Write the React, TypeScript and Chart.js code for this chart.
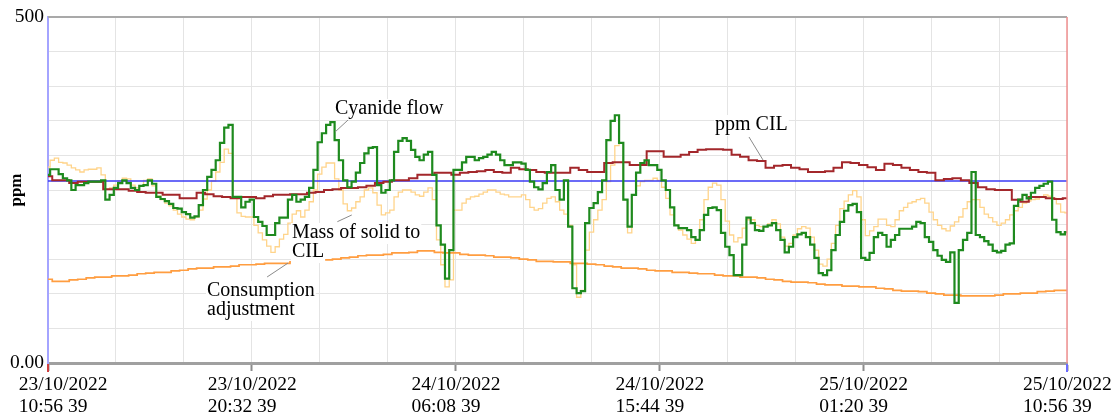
import React, { useEffect, useRef } from "react";
import { Chart, registerables } from "chart.js";

Chart.register(...registerables);

// time axis: hours after 23/10/2022 10:56:39
const FINE_STEP_H = 0.2; // sampling of the fast process signals
const COARSE_STEP_H = 0.4; // sampling of the slow signals
const GRID_STEP_H = 3.2; // vertical grid spacing (labels on every third line)
const SPAN_H = 48;

const cyanideFlow = [
  272, 280, 280, 273, 267, 264, 250, 257, 257, 260, 262, 262, 262, 264, 236, 243, 253, 260, 264, 260,
  253, 250, 256, 257, 264, 259, 240, 237, 234, 230, 224, 223, 218, 215, 210, 212, 228, 250, 269, 279,
  293, 318, 340, 344, 240, 240, 225, 233, 236, 211, 204, 198, 185, 185, 202, 210, 210, 236, 243, 233,
  236, 240, 253, 279, 319, 332, 344, 348, 322, 293, 264, 254, 262, 275, 289, 303, 311, 312, 257, 246,
  250, 264, 305, 321, 325, 321, 308, 298, 293, 301, 305, 272, 199, 171, 122, 163, 279, 279, 290, 298,
  298, 293, 296, 298, 301, 305, 301, 293, 286, 286, 290, 290, 288, 279, 262, 254, 251, 260, 276, 286,
  250, 236, 264, 197, 108, 101, 104, 202, 224, 231, 247, 264, 322, 350, 358, 318, 236, 197, 243, 275,
  289, 293, 286, 286, 279, 264, 250, 225, 199, 195, 195, 192, 182, 178, 192, 214, 224, 225, 221, 188,
  168, 156, 127, 127, 171, 210, 202, 192, 191, 197, 199, 202, 192, 178, 160, 168, 182, 186, 188, 182,
  171, 152, 130, 127, 134, 163, 185, 204, 220, 228, 230, 218, 152, 149, 159, 182, 188, 185, 168, 178,
  185, 194, 194, 194, 197, 204, 202, 182, 175, 163, 155, 149, 146, 160, 87, 163, 178, 188, 276, 185,
  182, 176, 171, 162, 160, 162, 171, 173, 227, 236, 243, 238, 246, 253, 256, 259, 262, 207, 189, 186,
  189,
];

const massOfSolid = [
  283, 293, 296, 290, 289, 286, 282, 279, 276, 279, 280, 280, 282, 272, 251, 253, 257, 263, 267, 266,
  257, 253, 256, 264, 266, 256, 241, 236, 231, 227, 221, 215, 211, 208, 207, 211, 221, 237, 250, 263,
  276, 290, 309, 303, 238, 217, 212, 211, 211, 199, 188, 178, 169, 160, 168, 179, 186, 202, 215, 220,
  211, 221, 233, 250, 273, 283, 289, 289, 266, 250, 230, 220, 224, 233, 240, 250, 253, 246, 228, 214,
  217, 221, 240, 247, 250, 250, 247, 243, 241, 247, 253, 236, 178, 142, 110, 120, 221, 221, 231, 237,
  240, 241, 244, 247, 250, 250, 247, 244, 243, 240, 240, 240, 243, 236, 225, 221, 223, 231, 238, 240,
  233, 221, 215, 199, 142, 95, 105, 163, 189, 207, 221, 236, 262, 286, 314, 318, 236, 188, 243, 256,
  262, 264, 264, 267, 264, 254, 238, 214, 199, 192, 185, 179, 173, 178, 207, 236, 254, 260, 257, 236,
  205, 185, 175, 181, 195, 207, 207, 199, 197, 197, 201, 207, 201, 182, 169, 173, 185, 194, 197, 195,
  182, 163, 143, 140, 150, 173, 199, 223, 234, 243, 249, 240, 207, 184, 191, 197, 208, 208, 199, 197,
  207, 220, 225, 231, 233, 236, 238, 231, 218, 207, 199, 194, 191, 198, 204, 211, 223, 233, 236, 236,
  225, 215, 210, 204, 199, 202, 207, 214, 220, 225, 231, 234, 236, 237, 240, 243, 241, 238, 230, 218,
  217,
];

const consumptionAdj = [
  121, 118, 118, 120, 121, 123, 124, 124, 126, 126,
  127, 129, 130, 131, 131, 133, 134, 136, 137, 137,
  139, 139, 140, 142, 142, 143, 144, 144, 144, 146,
  146, 147, 147, 149, 150, 152, 153, 155, 156, 156,
  157, 159, 159, 160, 162, 162, 160, 159, 159, 157,
  156, 156, 155, 153, 153, 152, 150, 149, 147, 147,
  146, 146, 144, 144, 143, 142, 140, 139, 137, 137,
  136, 134, 133, 133, 131, 131, 130, 129, 129, 127,
  126, 126, 124, 124, 123, 121, 120, 118, 117, 117,
  116, 114, 113, 113, 111, 111, 110, 110, 108, 107,
  105, 104, 104, 103, 101, 100, 98, 98, 97, 97,
  97, 97, 98, 100, 100, 101, 101, 103, 104, 105, 105,
];

const ppmCIL = [
  270, 264, 264, 260, 262, 262, 262, 251, 251, 251,
  249, 247, 246, 246, 243, 243, 238, 238, 246, 244,
  241, 240, 238, 240, 240, 238, 241, 243, 243, 244,
  244, 246, 247, 250, 251, 253, 253, 254, 256, 260,
  262, 264, 264, 267, 272, 272, 275, 275, 272, 275,
  276, 277, 279, 276, 275, 282, 280, 279, 276, 275,
  275, 275, 282, 279, 276, 276, 289, 290, 290, 286,
  286, 306, 306, 298, 298, 301, 305, 308, 309, 309,
  308, 301, 298, 293, 292, 282, 285, 286, 282, 280,
  276, 276, 277, 282, 290, 289, 286, 283, 279, 288,
  286, 282, 279, 276, 275, 264, 266, 267, 264, 260,
  254, 251, 250, 250, 236, 233, 240, 240, 238, 237, 238,
];

const setpointPpm = 263;

const tickDates = ["23/10/2022", "23/10/2022", "24/10/2022", "24/10/2022", "25/10/2022", "25/10/2022"];
const tickTimes = ["10:56 39", "20:32 39", "06:08 39", "15:44 39", "01:20 39", "10:56 39"];

// annotation labels: text lines, text anchor (hours, ppm of first baseline), leader line ends
const notes = [
  { lines: ["Cyanide flow"], at: [13.52, 359.8], leader: [[14.23, 353.9], [13.52, 333.8]] },
  { lines: ["ppm CIL"], at: [31.42, 336.7], leader: [[33.02, 326.6], [33.68, 293.4]] },
  { lines: ["Mass of solid to", "CIL"], at: [11.49, 180.6], leader: [[13.63, 204.2], [14.31, 213.9]] },
  { lines: ["Consumption", "adjustment"], at: [7.49, 96.8], leader: [[10.32, 124.3], [11.31, 144.5]] },
];

const SERIF = '"Liberation Serif", "Times New Roman", serif';

function isLabelTick(v: number) {
  return Math.round(v / GRID_STEP_H) % 3 === 0;
}

function zeroPadding(s: any) {
  s.paddingLeft = 0;
  s.paddingRight = 0;
  s.paddingTop = 0;
  s.paddingBottom = 0;
}

export default function App() {
  const ref = useRef<HTMLCanvasElement>(null);

  useEffect(() => {
    const canvas = ref.current;
    if (!canvas) return;
    const pts = (arr: number[], step: number) =>
      arr.map((v, i) => ({ x: Math.round(i * step * 100) / 100, y: v }));

    const framePlugin = {
      id: "frameAndNotes",
      afterDraw(chart: any) {
        const { ctx, chartArea: ca, scales } = chart;
        const xs = scales.x;
        const ys = scales.y;
        ctx.save();
        // top frame
        ctx.strokeStyle = "#a9a9a9";
        ctx.lineWidth = 2;
        ctx.beginPath();
        ctx.moveTo(ca.left, ca.top);
        ctx.lineTo(ca.right, ca.top);
        ctx.stroke();
        // right frame (cursor)
        ctx.strokeStyle = "#f09090";
        ctx.lineWidth = 1.5;
        ctx.beginPath();
        ctx.moveTo(ca.right, ca.top);
        ctx.lineTo(ca.right, ca.bottom);
        ctx.stroke();
        // cursor markers below axis
        ctx.lineWidth = 2;
        ctx.strokeStyle = "#d04040";
        ctx.beginPath();
        ctx.moveTo(ca.left, ca.bottom + 1);
        ctx.lineTo(ca.left, ca.bottom + 9);
        ctx.stroke();
        ctx.strokeStyle = "#6c6cff";
        ctx.beginPath();
        ctx.moveTo(ca.right, ca.bottom + 1);
        ctx.lineTo(ca.right, ca.bottom + 9);
        ctx.stroke();

        // annotations
        ctx.font = `20px ${SERIF}`;
        ctx.textBaseline = "alphabetic";
        ctx.textAlign = "left";
        for (const n of notes) {
          const [a, b] = n.leader;
          ctx.strokeStyle = "#8a8a8a";
          ctx.lineWidth = 1;
          ctx.beginPath();
          ctx.moveTo(xs.getPixelForValue(a[0]), ys.getPixelForValue(a[1]));
          ctx.lineTo(xs.getPixelForValue(b[0]), ys.getPixelForValue(b[1]));
          ctx.stroke();
          const left = xs.getPixelForValue(n.at[0]);
          const base0 = ys.getPixelForValue(n.at[1]);
          n.lines.forEach((t, k) => {
            const base = base0 + k * 19;
            const w = ctx.measureText(t).width;
            ctx.fillStyle = "#ffffff";
            ctx.fillRect(left - 1, base - 15, w + 2, 21);
            ctx.fillStyle = "#000000";
            ctx.fillText(t, left, base);
          });
        }
        ctx.restore();
      },
    };

    const chart = new Chart(canvas, {
      type: "line",
      data: {
        datasets: [
          {
            label: "Cyanide flow",
            data: pts(cyanideFlow, FINE_STEP_H),
            borderColor: "#1e8a1e",
            borderWidth: 2.2,
            stepped: "middle",
            pointRadius: 0,
          },
          {
            label: "ppm CIL",
            data: pts(ppmCIL, COARSE_STEP_H),
            borderColor: "#a3272b",
            borderWidth: 2,
            stepped: "middle",
            pointRadius: 0,
          },
          {
            label: "Setpoint",
            data: [
              { x: 0, y: setpointPpm },
              { x: SPAN_H, y: setpointPpm },
            ],
            borderColor: "#3a3af5",
            borderWidth: 1.3,
            pointRadius: 0,
          },
          {
            label: "Consumption adjustment",
            data: pts(consumptionAdj, COARSE_STEP_H),
            borderColor: "#ff9d40",
            borderWidth: 1.7,
            stepped: "middle",
            pointRadius: 0,
          },
          {
            label: "Mass of solid to CIL",
            data: pts(massOfSolid, FINE_STEP_H),
            borderColor: "#ffd48a",
            borderWidth: 1.3,
            stepped: "middle",
            pointRadius: 0,
          },
        ],
      },
      options: {
        responsive: false,
        animation: false,
        devicePixelRatio: 1,
        layout: { padding: { top: 17, right: 53, bottom: 0, left: 0 }, autoPadding: false },
        plugins: { legend: { display: false }, tooltip: { enabled: false } },
        scales: {
          x: {
            type: "linear",
            min: 0,
            max: SPAN_H,
            afterFit: (s: any) => {
              s.height = 52;
              zeroPadding(s);
            },
            border: { color: "#a0a0a0", width: 3 },
            grid: {
              color: "#e4e4e4",
              lineWidth: 1,
              tickLength: 8,
              tickWidth: 2,
              tickColor: (c: any) =>
                c.tick && isLabelTick(c.tick.value) ? "#8c8c8c" : "rgba(0,0,0,0)",
            },
            ticks: {
              stepSize: GRID_STEP_H,
              autoSkip: false,
              maxRotation: 0,
              minRotation: 0,
              align: "start",
              labelOffset: -44,
              padding: 3,
              color: "#000",
              font: { family: SERIF, size: 19.5, lineHeight: 1.12 },
              callback: (value: any) => {
                const k = Math.round(Number(value) / GRID_STEP_H);
                if (k % 3 !== 0) return "";
                const j = k / 3;
                const pre = j === 0 ? "   " : "";
                return [pre + tickDates[j], pre + tickTimes[j]];
              },
            },
          },
          y: {
            min: 0,
            max: 500,
            afterFit: (s: any) => {
              s.width = 48;
              zeroPadding(s);
            },
            border: { color: "#a4a4ff", width: 2 },
            grid: { color: "#e4e4e4", lineWidth: 1, drawTicks: false },
            title: {
              display: true,
              text: "ppm",
              color: "#000",
              font: { family: SERIF, size: 17, weight: "bold" },
              padding: { top: 6, bottom: 0 },
            },
            ticks: {
              stepSize: 50,
              padding: 4,
              color: "#000",
              font: { family: SERIF, size: 19.5 },
              callback: (value: any) => (value === 500 ? "500" : value === 0 ? "0.00" : ""),
            },
          },
        },
      },
      plugins: [framePlugin],
    } as any);

    return () => chart.destroy();
  }, []);

  return (
    <div style={{ position: "absolute", left: 0, top: 0, width: 1120, height: 415, background: "#fff" }}>
      <canvas ref={ref} width={1120} height={415} style={{ display: "block" }} />
    </div>
  );
}
